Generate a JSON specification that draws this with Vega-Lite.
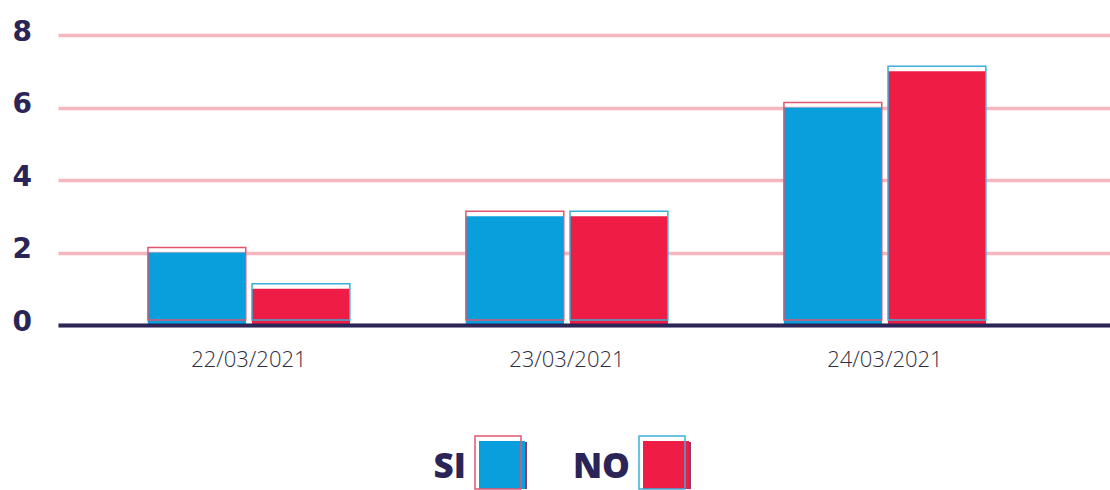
{
  "$schema": "https://vega.github.io/schema/vega-lite/v6.json",
  "autosize": {"type": "pad"},
  "padding": {"left": 12, "top": 18, "right": 0, "bottom": 0},
  "background": "#ffffff",
  "bounds": "flush",
  "center": true,
  "spacing": 116,
  "config": {"view": {"stroke": null}},
  "datasets": {
    "votes": [
      {"date": "22/03/2021", "answer": "SI", "value": 2},
      {"date": "22/03/2021", "answer": "NO", "value": 1},
      {"date": "23/03/2021", "answer": "SI", "value": 3},
      {"date": "23/03/2021", "answer": "NO", "value": 3},
      {"date": "24/03/2021", "answer": "SI", "value": 6},
      {"date": "24/03/2021", "answer": "NO", "value": 7}
    ],
    "legend": [{"answer": "SI"}, {"answer": "NO"}]
  },
  "vconcat": [
    {
      "width": 1052,
      "height": 290,
      "data": {"name": "votes"},
      "encoding": {
        "x": {
          "field": "date", "type": "nominal", "sort": null,
          "scale": {"paddingInner": 0.365, "paddingOuter": 0.3365, "align": 0.42},
          "axis": {
            "title": null, "labelAngle": 0, "ticks": false,
            "domainColor": "#2b2558", "domainWidth": 4,
            "labelFont": "Open Sans", "labelFontSize": 22, "labelFontWeight": 300,
            "labelColor": "#2e2e3c", "labelPadding": 24, "zindex": 1
          }
        },
        "xOffset": {"field": "answer", "type": "nominal", "sort": ["SI", "NO"], "scale": {"paddingInner": 0.06}},
        "y": {
          "field": "value", "type": "quantitative",
          "scale": {"domain": [0, 8], "nice": false},
          "axis": {
            "title": null, "values": [0, 2, 4, 6, 8], "domain": false, "ticks": false,
            "grid": true, "gridColor": "#f6b7c0", "gridWidth": 3.5,
            "labelFont": "DejaVu Sans", "labelFontSize": 28, "labelFontWeight": "bold",
            "labelColor": "#2b2456", "labelAlign": "left", "labelPadding": 46, "labelOffset": -3
          }
        }
      },
      "layer": [
        {"mark": {"type": "bar", "fill": "#8b3c6e", "xOffset": 2, "yOffset": 1}},
        {
          "mark": {"type": "bar"},
          "encoding": {
            "color": {"field": "answer", "type": "nominal", "scale": {"domain": ["SI", "NO"], "range": ["#089fdc", "#ef1d46"]}, "legend": null}
          }
        },
        {
          "mark": {"type": "bar", "filled": false, "strokeWidth": 1.5, "xOffset": -5, "yOffset": -5},
          "encoding": {
            "stroke": {"field": "answer", "type": "nominal", "scale": {"domain": ["SI", "NO"], "range": ["#e2566f", "#38b0d8"]}, "legend": null}
          }
        }
      ]
    },
    {
      "width": 328,
      "height": 48,
      "data": {"name": "legend"},
      "encoding": {
        "x": {"field": "answer", "type": "nominal", "sort": ["SI", "NO"], "scale": {"type": "point", "padding": 0.5}, "axis": null}
      },
      "layer": [
        {"mark": {"type": "bar", "width": 46, "fill": "#8b3c6e", "xOffset": 2, "yOffset": 1}},
        {
          "mark": {"type": "bar", "width": 46},
          "encoding": {
            "color": {"field": "answer", "type": "nominal", "scale": {"domain": ["SI", "NO"], "range": ["#089fdc", "#ef1d46"]}, "legend": null}
          }
        },
        {
          "mark": {"type": "bar", "width": 46, "filled": false, "strokeWidth": 1.5, "xOffset": -4, "yOffset": -5},
          "encoding": {
            "stroke": {"field": "answer", "type": "nominal", "scale": {"domain": ["SI", "NO"], "range": ["#e2566f", "#38b0d8"]}, "legend": null}
          }
        },
        {
          "mark": {"type": "text", "align": "right", "baseline": "middle", "dx": -36, "dy": 2, "font": "Open Sans", "fontSize": 35, "fontWeight": 800, "fill": "#2b2456"},
          "encoding": {"text": {"field": "answer"}}
        }
      ]
    }
  ]
}
